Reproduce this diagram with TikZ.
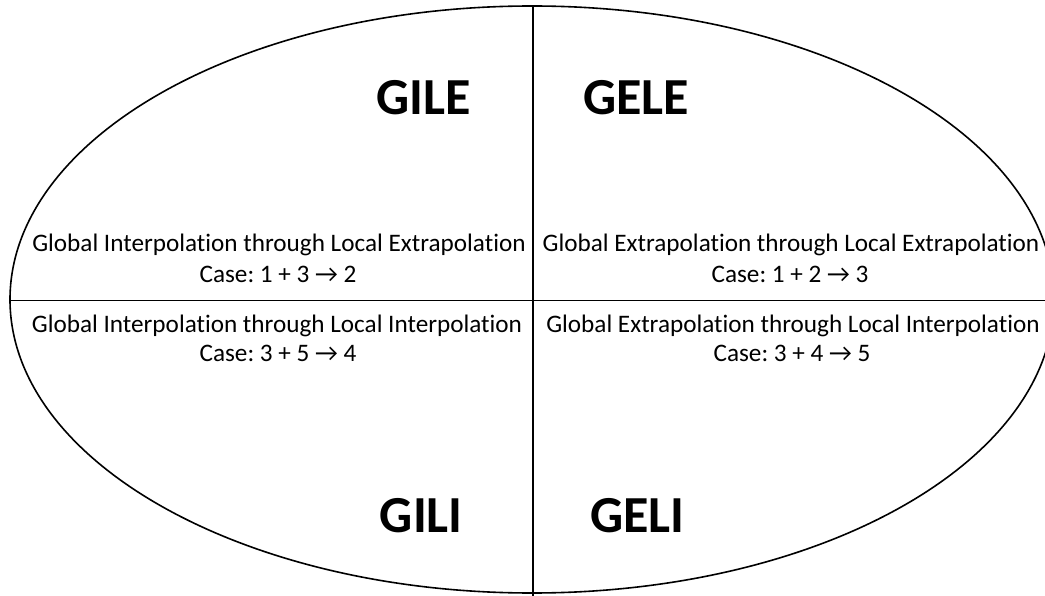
\documentclass[tikz,border=0pt]{standalone}
\usepackage{fontspec}
\setmainfont{Carlito}[Ligatures={NoCommon}]
\frenchspacing
\begin{document}
\begin{tikzpicture}[x=1pt,y=-1pt,
  outline/.style={line width=1.6pt, black},
  small/.style={font=\fontsize{25.2}{30}\selectfont, inner sep=0pt, anchor=base},
  big/.style={font=\fontsize{52}{60}\selectfont\bfseries, inner sep=0pt}]
\useasboundingbox (0,0) rectangle (1045,596);
\begin{scope}
  \clip (0,0) rectangle (1045,596);
  \draw[outline] (532,299.5) ellipse [x radius=522, y radius=293.5];
\end{scope}
\coordinate (vtop) at (533,6);
\coordinate (vbot) at (533,596);
\coordinate (hleft) at (10,300.5);
\coordinate (hright) at (1045,300.5);
\draw[outline] (vtop) -- (vbot);
\draw[outline] (hleft) -- (hright);
\node[big, anchor=base east] (gile) at (471,115) {GILE};
\node[big, anchor=base west] (gele) at (583,115) {GELE};
\node[big, anchor=base east] (gili) at (463,532) {GILI};
\node[big, anchor=base west] (geli) at (590,532) {GELI};
\node[small] (t1) at (279,252) {Global Interpolation through Local Extrapolation};
\node[small] (c1) at (278,283) {Case: 1 + 3 → 2};
\node[small] (t2) at (791,252) {Global Extrapolation through Local Extrapolation};
\node[small] (c2) at (790,283) {Case: 1 + 2 → 3};
\node[small] (t3) at (277,332) {Global Interpolation through Local Interpolation};
\node[small] (c3) at (278,361) {Case: 3 + 5 → 4};
\node[small] (t4) at (793,332) {Global Extrapolation through Local Interpolation};
\node[small] (c4) at (792,361) {Case: 3 + 4 → 5};
\end{tikzpicture}
\end{document}
